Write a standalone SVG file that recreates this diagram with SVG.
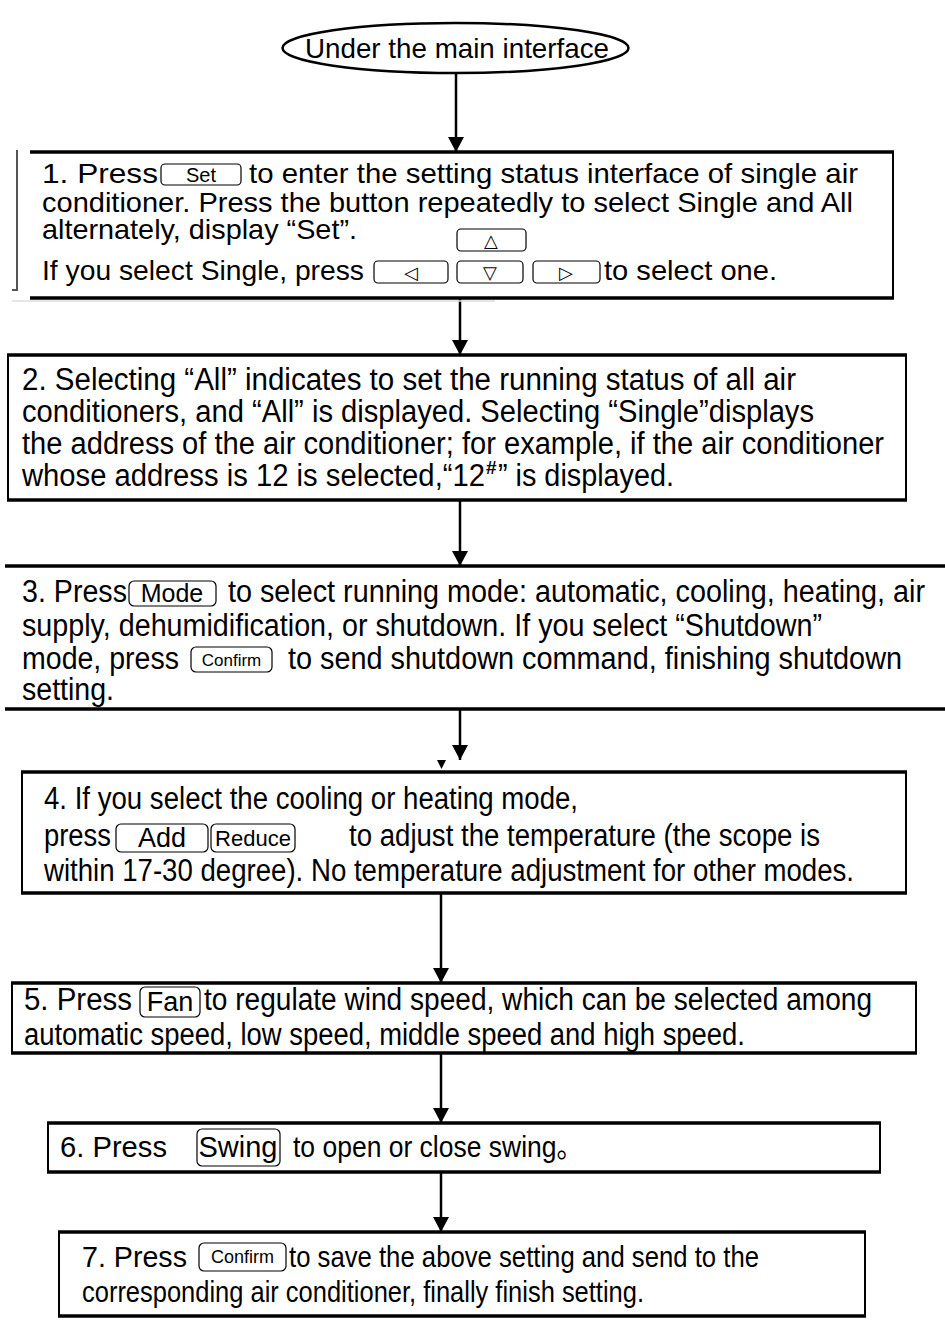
<svg xmlns="http://www.w3.org/2000/svg" width="945" height="1324" viewBox="0 0 945 1324">
<defs>
<style>
.t{font-family:"Liberation Sans",Arial,sans-serif;font-size:28px;fill:#000}
.n{font-family:"Liberation Sans Narrow","Liberation Sans",Arial,"Noto Sans CJK SC",sans-serif;fill:#000}
.bt{font-family:"Liberation Sans Narrow","Liberation Sans",Arial,sans-serif;fill:#000;text-anchor:middle}
.sym{font-family:"DejaVu Sans",sans-serif;font-size:18px;fill:#000;text-anchor:middle}
.box{fill:none;stroke:#000;stroke-width:2}
.hl{fill:none;stroke:#000;stroke-width:3.5}
.btn{fill:#fff;stroke:#000;stroke-width:1.2}
.con{fill:none;stroke:#000;stroke-width:2.5}
</style>
<marker id="ah" viewBox="0 0 15 16" refX="15" refY="8" markerWidth="15" markerHeight="16" markerUnits="userSpaceOnUse" orient="auto">
<path d="M0,0 L15,8 L0,16 z" fill="#000"/>
</marker>
</defs>
<rect width="945" height="1324" fill="#fff"/>

<g id="connectors">
<path class="con" d="M456,72 V152" marker-end="url(#ah)"/>
<path class="con" d="M460,298 V355" marker-end="url(#ah)"/>
<path class="con" d="M460,500 V566" marker-end="url(#ah)"/>
<path class="con" d="M460,709 V760" marker-end="url(#ah)"/>
<polygon points="437,760 446,760 441.5,769" fill="#000"/>
<path class="con" d="M441,893 V983" marker-end="url(#ah)"/>
<path class="con" d="M441,1053 V1123" marker-end="url(#ah)"/>
<path class="con" d="M441,1172 V1232" marker-end="url(#ah)"/>
</g>

<g id="start">
<ellipse cx="455.5" cy="48" rx="173" ry="25" fill="none" stroke="#000" stroke-width="2.5"/>
<text class="t" x="457" y="58" font-size="27" text-anchor="middle" textLength="304" lengthAdjust="spacingAndGlyphs">Under the main interface</text>
</g>

<g id="step1">
<path d="M12,290 H17 V150" fill="none" stroke="#555" stroke-width="2"/>
<line x1="12" y1="301" x2="495" y2="301" stroke="#ddd" stroke-width="1.5"/>
<path class="box" d="M893,152 V298"/>
<line class="hl" x1="30" y1="152" x2="894" y2="152"/>
<line class="hl" x1="30" y1="298" x2="894" y2="298"/>
<text class="t" x="42" y="183" textLength="116" lengthAdjust="spacingAndGlyphs">1.  Press</text>
<rect class="btn" x="161" y="164" width="80" height="21" rx="4"/>
<text class="bt" x="201" y="182" font-size="20">Set</text>
<text class="t" x="249" y="183" textLength="609" lengthAdjust="spacingAndGlyphs">to enter the setting status  interface of single air</text>
<text class="t" x="42" y="212" textLength="811" lengthAdjust="spacingAndGlyphs">conditioner. Press the button repeatedly to select Single and All</text>
<text class="t" x="42" y="239" textLength="315" lengthAdjust="spacingAndGlyphs">alternately, display “Set”.</text>
<rect class="btn" x="457" y="229" width="69" height="22" rx="4"/>
<text class="sym" x="491" y="247">△</text>
<text class="t" x="42" y="280" textLength="322" lengthAdjust="spacingAndGlyphs">If you select Single, press</text>
<rect class="btn" x="374" y="261" width="74" height="22" rx="4"/>
<text class="sym" x="411" y="279">◁</text>
<rect class="btn" x="457" y="261" width="66" height="22" rx="4"/>
<text class="sym" x="490" y="279">▽</text>
<rect class="btn" x="533" y="261" width="67" height="22" rx="4"/>
<text class="sym" x="566" y="279">▷</text>
<text class="t" x="604" y="280" textLength="173" lengthAdjust="spacingAndGlyphs">to select one.</text>
</g>

<g id="step2" class="n" font-size="31">
<rect class="box" x="8" y="355" width="898" height="145"/>
<line class="hl" x1="7" y1="355" x2="907" y2="355"/>
<line class="hl" x1="7" y1="500" x2="907" y2="500"/>
<text x="22" y="390" textLength="774" lengthAdjust="spacingAndGlyphs">2.  Selecting “All” indicates to set the running status of all air</text>
<text x="22" y="422" textLength="792" lengthAdjust="spacingAndGlyphs">conditioners, and “All” is displayed. Selecting “Single”displays</text>
<text x="22" y="454" textLength="862" lengthAdjust="spacingAndGlyphs">the address of the air conditioner; for example, if the air conditioner</text>
<text x="22" y="486" textLength="463" lengthAdjust="spacingAndGlyphs">whose address is 12 is selected,“12</text>
<text x="486" y="474" font-size="19" font-weight="bold">#</text>
<text x="498" y="486" textLength="176" lengthAdjust="spacingAndGlyphs">” is displayed.</text>
</g>

<g id="step3" class="n" font-size="31">
<line class="hl" x1="5" y1="566" x2="945" y2="566"/>
<line class="hl" x1="5" y1="709" x2="945" y2="709"/>
<text x="22" y="602" textLength="105" lengthAdjust="spacingAndGlyphs">3. Press</text>
<rect class="btn" x="129" y="581" width="87" height="25" rx="5"/>
<text class="bt" x="172" y="602" font-size="25">Mode</text>
<text x="228" y="602" textLength="697" lengthAdjust="spacingAndGlyphs">to select running mode: automatic, cooling, heating, air</text>
<text x="22" y="636" textLength="800" lengthAdjust="spacingAndGlyphs">supply, dehumidification, or shutdown. If you select “Shutdown”</text>
<text x="22" y="669" textLength="157" lengthAdjust="spacingAndGlyphs">mode, press</text>
<rect class="btn" x="191" y="647" width="81" height="25" rx="5"/>
<text class="bt" x="231.5" y="666" font-size="17">Confirm</text>
<text x="288" y="669" textLength="614" lengthAdjust="spacingAndGlyphs">to send shutdown command, finishing shutdown</text>
<text x="22" y="700" textLength="92" lengthAdjust="spacingAndGlyphs">setting.</text>
</g>

<g id="step4" class="n" font-size="31">
<rect class="box" x="22" y="772" width="884" height="121"/>
<line class="hl" x1="21" y1="772" x2="907" y2="772"/>
<line class="hl" x1="21" y1="893" x2="907" y2="893"/>
<text x="44" y="809" textLength="534" lengthAdjust="spacingAndGlyphs">4. If you select the cooling or heating mode,</text>
<text x="44" y="846" textLength="67" lengthAdjust="spacingAndGlyphs">press</text>
<rect class="btn" x="116" y="824" width="92" height="28" rx="5"/>
<text class="bt" x="162" y="847" font-size="27">Add</text>
<rect class="btn" x="211" y="824" width="84" height="28" rx="5"/>
<text class="bt" x="253" y="846" font-size="22">Reduce</text>
<text x="349" y="846" textLength="471" lengthAdjust="spacingAndGlyphs">to adjust the temperature (the scope is</text>
<text x="44" y="881" textLength="810" lengthAdjust="spacingAndGlyphs">within 17-30 degree). No temperature adjustment for other modes.</text>
</g>

<g id="step5" class="n" font-size="31">
<rect class="box" x="12" y="983" width="904" height="70"/>
<line class="hl" x1="11" y1="983" x2="917" y2="983"/>
<line class="hl" x1="11" y1="1053" x2="917" y2="1053"/>
<text x="24" y="1010" textLength="108" lengthAdjust="spacingAndGlyphs">5.  Press</text>
<rect class="btn" x="140" y="987" width="60" height="30" rx="5"/>
<text class="bt" x="170" y="1011" font-size="27">Fan</text>
<text x="204" y="1010" textLength="668" lengthAdjust="spacingAndGlyphs">to regulate wind speed, which can be selected among</text>
<text x="24" y="1045" textLength="721" lengthAdjust="spacingAndGlyphs">automatic speed, low speed, middle speed and high speed.</text>
</g>

<g id="step6" class="n" font-size="30">
<rect class="box" x="48" y="1123" width="832" height="49"/>
<line class="hl" x1="47" y1="1123" x2="881" y2="1123"/>
<line class="hl" x1="47" y1="1172" x2="881" y2="1172"/>
<text x="60" y="1157" textLength="107" lengthAdjust="spacingAndGlyphs">6.  Press</text>
<rect class="btn" x="197" y="1129" width="83" height="37" rx="5"/>
<text class="bt" x="238" y="1157" font-size="29">Swing</text>
<text x="293" y="1157" textLength="290" lengthAdjust="spacingAndGlyphs">to open or close swing。</text>
</g>

<g id="step7" class="n" font-size="29">
<rect class="box" x="59" y="1232" width="806" height="84"/>
<line class="hl" x1="58" y1="1232" x2="866" y2="1232"/>
<line class="hl" x1="58" y1="1316" x2="866" y2="1316"/>
<text x="82" y="1267" textLength="105" lengthAdjust="spacingAndGlyphs">7.  Press</text>
<rect class="btn" x="199" y="1243" width="87" height="28" rx="5"/>
<text class="bt" x="242.5" y="1263" font-size="18">Confirm</text>
<text x="289" y="1267" textLength="470" lengthAdjust="spacingAndGlyphs">to save the above setting and send to the</text>
<text x="82" y="1302" textLength="562" lengthAdjust="spacingAndGlyphs">corresponding air conditioner, finally finish setting.</text>
</g>
</svg>
